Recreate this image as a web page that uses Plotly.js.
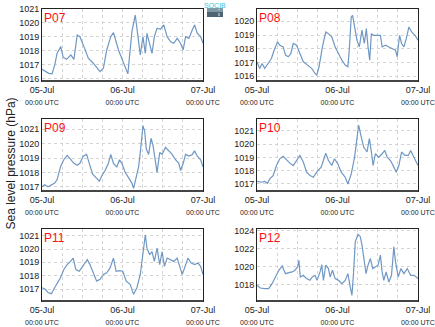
<!DOCTYPE html>
<html><head><meta charset="utf-8">
<script src="https://cdn.plot.ly/plotly-3.0.1.min.js"></script>
<style>html,body{margin:0;padding:0;background:#fff}#chart{width:435px;height:327px}</style>
</head><body><div id="chart"></div>
<script>
const panelNames = ["P07","P08","P09","P10","P11","P12"];
const dayTicks = [0, 24, 48];
const dayLabels = ["05-Jul", "06-Jul", "07-Jul"];
const timeLabel = "00:00 UTC";
const yTitle = "Sea level pressure (hPa)";
const logoText = "SOCIB";

const hP07 = [0,1,2,3,3.8,4.5,5.6,6.3,7.3,8.6,9.5,10.5,11.3,12.5,13.8,15.3,16.5,17.3,18.3,19.3,20.5,21.3,22.8,24.3,25.6,26.8,27.8,28.5,29.3,30.1,30.8,31.3,32,32.8,33.5,34.3,35.3,36.3,37.3,38.3,39.3,40.3,41.3,42.1,42.8,43.8,44.8,45.5,46.3,47.3,48];
const vP07 = [1016.69,1016.52,1016.40,1016.36,1017.0,1017.83,1018.31,1017.55,1017.40,1017.71,1017.40,1019.14,1019.02,1018.31,1017.48,1017.12,1016.76,1016.52,1016.76,1018.07,1019.02,1019.31,1018.07,1017.12,1016.36,1019.38,1020.57,1019.26,1017.71,1019.02,1017.83,1019.26,1018.55,1017.83,1019.02,1019.62,1019.55,1019.86,1019.02,1018.67,1018.55,1018.90,1018.55,1018.07,1019.02,1018.90,1019.50,1019.86,1019.26,1019.02,1018.55];

const hP08 = [0,0.8,1.5,2.3,3.3,4.3,5.1,6.1,6.8,7.8,8.5,9.3,10.1,10.8,11.8,12.8,13.8,15.1,16.3,17.3,17.8,18.5,19.5,20.5,21.3,22.3,23.3,24.3,25.3,26.3,27.1,27.5,28.1,28.5,29.1,29.8,30.5,31.3,32,32.6,33.1,33.6,34.1,34.8,35.8,36.8,37.3,38.3,39.3,40.3,41.3,41.8,42.5,43.1,43.8,44.5,45.3,46.1,47.1,48];
const vP08 = [1017.04,1016.56,1016.92,1016.56,1016.92,1017.28,1017.89,1018.50,1018.25,1018.13,1017.53,1017.41,1017.65,1018.38,1018.25,1017.65,1017.04,1016.80,1016.56,1016.19,1016.07,1016.68,1018.13,1019.22,1019.10,1018.86,1018.13,1017.65,1017.16,1016.80,1016.68,1017.89,1020.32,1020.44,1019.59,1018.62,1018.13,1019.35,1018.38,1019.47,1018.13,1017.16,1019.10,1018.98,1018.98,1018.98,1018.13,1018.25,1018.13,1018.01,1017.89,1017.41,1018.98,1018.38,1018.13,1018.74,1019.59,1019.22,1018.98,1018.62];

const hP09 = [0,0.8,1.8,2.8,3.8,4.5,5.5,6.5,7.5,8.5,9.5,10.5,11.3,12.3,13.3,14.1,15.1,16.1,17.1,17.8,18.8,19.8,20.5,21.3,22.3,23.1,23.8,24.8,25.8,26.8,27.3,28.1,28.8,29.3,30.1,30.6,31.1,31.8,32.5,33.1,33.8,34.3,35.1,35.8,36.8,37.8,38.8,39.8,40.8,41.3,42.1,42.8,43.8,44.8,45.5,46.3,47.3,48];
const vP09 = [1017.0,1017.13,1017.0,1017.13,1017.25,1017.5,1018.38,1018.88,1019.18,1018.93,1018.63,1018.5,1018.63,1019.13,1019.25,1018.63,1017.88,1017.63,1017.38,1017.75,1018.13,1018.63,1019.25,1018.63,1018.38,1018.88,1018.63,1018.0,1017.63,1017.25,1016.88,1017.75,1018.38,1019.38,1021.25,1020.88,1019.63,1019.25,1020.38,1019.88,1018.88,1018.0,1019.38,1019.25,1019.75,1019.5,1019.25,1018.88,1018.63,1018.13,1018.63,1019.25,1019.13,1019.25,1019.5,1019.13,1018.88,1018.38];

const hP10 = [0,1.3,2.3,3.1,3.8,4.8,5.8,6.8,7.8,8.8,9.8,10.8,11.8,12.8,13.8,14.8,15.8,16.8,17.8,19.1,19.8,20.5,21.3,22.3,23.1,24.1,25.1,26.3,27.1,28.1,29.1,29.8,30.3,31.1,31.8,32.8,33.5,34.1,34.6,35.3,36.3,37.3,38.1,38.8,39.8,40.8,41.5,42.3,43.1,44.1,45.1,45.8,46.6,47.6,48];
const vP10 = [1017.2,1017.13,1017.2,1017.05,1017.38,1017.63,1018.39,1018.9,1019.08,1018.82,1018.57,1018.39,1018.77,1019.15,1018.65,1017.89,1017.63,1017.51,1017.89,1018.27,1018.77,1019.33,1018.77,1018.39,1018.9,1018.52,1017.89,1017.51,1017.0,1017.76,1019.03,1020.29,1021.43,1020.54,1019.78,1019.41,1020.42,1019.41,1018.39,1019.28,1019.03,1019.28,1019.53,1019.03,1018.77,1018.27,1017.89,1018.39,1019.41,1019.15,1019.15,1019.53,1019.15,1018.65,1018.39];

const hP11 = [0,1,1.8,2.8,3.5,4.5,5.5,6.5,7.5,8.5,9.3,10.1,11.1,12.1,13.5,14.3,15.3,16.3,17.3,18.3,19.3,20.3,21.3,22.1,23.1,24.1,25.1,26.3,27.3,28.3,29.3,30.1,30.8,31.3,32.1,32.8,33.5,34.3,35.1,35.8,36.5,37.3,38.3,39.3,40.3,41.1,41.8,42.5,43.5,44.5,45.5,46.5,47.3,48];
const vP11 = [1017.1,1016.98,1016.73,1016.65,1016.98,1017.47,1017.84,1018.46,1018.83,1019.07,1019.32,1018.46,1018.33,1018.7,1019.2,1018.83,1018.21,1017.59,1017.72,1018.09,1018.21,1018.58,1019.32,1018.33,1018.38,1018.33,1017.59,1017.35,1016.6,1017.1,1018.09,1019.94,1021.05,1020.06,1019.57,1019.81,1019.07,1020.06,1018.83,1019.81,1018.7,1019.32,1019.2,1019.07,1019.32,1018.58,1018.09,1018.58,1019.32,1018.95,1018.83,1018.95,1018.7,1018.09];

const hP12 = [0,1,2.3,3.5,4.5,5.5,6.5,7.5,8.5,9.5,10.5,11.3,12.1,12.5,12.9,13.8,14.8,15.8,16.5,17.3,17.9,18.8,19.3,19.8,20.5,21.3,21.8,22.5,23.3,24.3,25.3,26.3,27.1,27.8,28.3,28.8,29.3,30.1,30.8,31.3,31.8,32.5,33.1,33.8,34.5,35.3,36.1,36.8,37.3,37.8,38.5,39.3,40.1,40.8,41.3,42.1,42.9,43.8,44.8,45.8,46.8,48];
const vP12 = [1017.93,1017.63,1017.56,1017.56,1018.11,1018.85,1019.59,1020.07,1019.22,1019.33,1019.41,1019.59,1019.96,1020.7,1018.85,1019.04,1018.67,1018.48,1018.85,1019.04,1018.48,1019.41,1020.22,1018.48,1020.15,1019.78,1018.85,1019.59,1018.67,1018.48,1018.11,1018.48,1019.22,1017.74,1016.81,1019.41,1022.74,1023.56,1023.3,1022.37,1021.26,1019.22,1020.15,1020.89,1019.78,1019.96,1020.15,1021.26,1019.41,1018.48,1019.41,1018.3,1019.04,1022.19,1020.52,1018.85,1019.78,1019.22,1019.78,1019.04,1019.04,1018.67];

const hours = [hP07,hP08,hP09,hP10,hP11,hP12];
const values = [vP07,vP08,vP09,vP10,vP11,vP12];
const yRanges = [[1015.85,1021.0],[1015.64,1020.9],[1016.7,1021.72],[1016.47,1021.9],[1016.1,1021.5],[1016.2,1024.15]];
const yDticks = [1,1,1,1,1,2];

const W = 435, H = 327;
const colsPx = [[42,203],[257,418]];
const rowsPx = [[9,81],[119,191],[229,301]];

const tickText = dayLabels.map(d => d + '<br><span style="font-size:7px">' + timeLabel + '</span>');
const gridCol = '#d4d4d4';

const data = [];
const layout = {
  width: W, height: H,
  margin: {l:0, r:0, t:0, b:0},
  paper_bgcolor: '#fff', plot_bgcolor: '#fff',
  showlegend: false,
  font: {family: 'Liberation Sans, Arial, sans-serif', color: '#222', size: 9},
  annotations: [], shapes: []
};

for (let i = 0; i < 6; i++) {
  const c = i % 2, r = Math.floor(i / 2);
  const sfx = i === 0 ? '' : String(i + 1);
  data.push({
    x: hours[i], y: values[i], type: 'scatter', mode: 'lines',
    xaxis: 'x' + sfx, yaxis: 'y' + sfx,
    line: {color: '#6f97c4', width: 1.2}, hoverinfo: 'skip'
  });
  layout['xaxis' + sfx] = {
    domain: [colsPx[c][0] / W, colsPx[c][1] / W],
    anchor: 'y' + sfx,
    range: [0, 48],
    tickvals: dayTicks, ticktext: tickText,
    tickfont: {size: 9, color: '#222'},
    ticks: '', showgrid: true, gridcolor: gridCol, griddash: 'dot', gridwidth: 1,
    minor: {dtick: 6, tick0: 0, showgrid: true, gridcolor: gridCol, griddash: 'dot', gridwidth: 1, ticks: ''},
    zeroline: false, showline: true, mirror: true, linecolor: '#222', linewidth: 1,
    fixedrange: true
  };
  layout['yaxis' + sfx] = {
    domain: [1 - rowsPx[r][1] / H, 1 - rowsPx[r][0] / H],
    anchor: 'x' + sfx,
    range: yRanges[i], dtick: yDticks[i], tick0: 1016,
    tickfont: {size: 9, color: '#222'},
    ticks: '', showgrid: true, gridcolor: gridCol, griddash: 'dot', gridwidth: 1,
    zeroline: false, showline: true, mirror: true, linecolor: '#222', linewidth: 1,
    ticklabelstandoff: 0, fixedrange: true
  };
  layout.annotations.push({
    text: panelNames[i], xref: 'x' + sfx + ' domain', yref: 'y' + sfx + ' domain',
    x: 0.0, y: 1.0, xanchor: 'left', yanchor: 'top', showarrow: false,
    font: {size: 12, color: '#ff1010', family: 'Liberation Sans, Arial, sans-serif'}
  });
  layout.shapes.push({
    type: 'line', xref: 'x' + sfx + ' domain', yref: 'y' + sfx + ' domain',
    x0: 0, x1: 1, y0: 0, y1: 0, line: {color: '#444', width: 2}
  });
}

layout.annotations.push({
  text: yTitle, xref: 'paper', yref: 'paper', x: 10 / W, y: 0.5,
  textangle: -90, showarrow: false, xanchor: 'center', yanchor: 'middle',
  font: {size: 12, color: '#222'}
});

// logo block
layout.shapes.push({type:'rect', xref:'paper', yref:'paper', x0:207/W, x1:223/W, y0:1-17/H, y1:1-8/H, fillcolor:'#4d6272', line:{width:0}, layer:'above'});
layout.shapes.push({type:'rect', xref:'paper', yref:'paper', x0:207/W, x1:223/W, y0:1-12/H, y1:1-8/H, fillcolor:'#7f98a6', line:{width:0}, layer:'above'});
layout.shapes.push({type:'line', xref:'paper', yref:'paper', x0:219/W, x1:219/W, y0:1-16/H, y1:1-9/H, line:{color:'#e0e8ee', width:1, dash:'dot'}, layer:'above'});
layout.annotations.push({text:logoText, xref:'paper', yref:'paper', x:215/W, y:1-1/H, xanchor:'center', yanchor:'top', showarrow:false, borderpad:0, font:{size:7, color:'#3cc0d8'}});

Plotly.newPlot('chart', data, layout, {staticPlot: true, displayModeBar: false});
</script></body></html>
